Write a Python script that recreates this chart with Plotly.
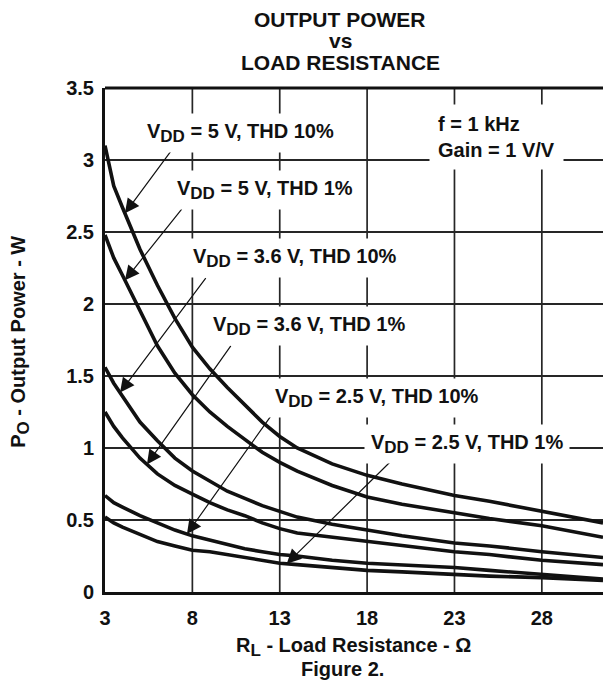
import numpy as np
import plotly.graph_objects as go

# Load resistance (ohm) sample points shared by every curve
r_load = [3, 3.5, 4, 5, 6, 7, 8, 9, 10, 11, 12, 13, 14, 16, 18, 20, 23, 25, 28, 31.5]

# Output power (W) per supply / distortion condition
p_5v_thd10 = [3.10, 2.82, 2.67, 2.38, 2.13, 1.90, 1.70, 1.55, 1.42, 1.30, 1.18, 1.08, 1.00, 0.89, 0.81, 0.75, 0.67, 0.63, 0.56, 0.48]
p_5v_thd1 = [2.48, 2.32, 2.20, 1.95, 1.71, 1.52, 1.37, 1.25, 1.15, 1.06, 0.97, 0.90, 0.84, 0.74, 0.66, 0.61, 0.55, 0.51, 0.46, 0.38]
p_36v_thd10 = [1.56, 1.45, 1.36, 1.18, 1.05, 0.93, 0.84, 0.77, 0.70, 0.65, 0.60, 0.56, 0.52, 0.47, 0.43, 0.39, 0.34, 0.32, 0.28, 0.24]
p_36v_thd1 = [1.25, 1.15, 1.07, 0.93, 0.82, 0.74, 0.68, 0.62, 0.57, 0.53, 0.48, 0.44, 0.41, 0.38, 0.35, 0.32, 0.28, 0.26, 0.22, 0.19]
p_25v_thd10 = [0.67, 0.62, 0.59, 0.53, 0.48, 0.43, 0.39, 0.36, 0.33, 0.30, 0.28, 0.26, 0.25, 0.22, 0.20, 0.19, 0.17, 0.15, 0.12, 0.09]
p_25v_thd1 = [0.52, 0.48, 0.45, 0.40, 0.35, 0.32, 0.29, 0.28, 0.26, 0.24, 0.22, 0.20, 0.19, 0.17, 0.15, 0.14, 0.12, 0.11, 0.10, 0.08]

SUB = "V<sub><span style='font-size:17px'>DD</span></sub>"
series_names = [
    SUB + " = 5 V, THD 10%",
    SUB + " = 5 V, THD 1%",
    SUB + " = 3.6 V, THD 10%",
    SUB + " = 3.6 V, THD 1%",
    SUB + " = 2.5 V, THD 10%",
    SUB + " = 2.5 V, THD 1%",
]
series_values = [p_5v_thd10, p_5v_thd1, p_36v_thd10, p_36v_thd1, p_25v_thd10, p_25v_thd1]

x_ticks = [3, 8, 13, 18, 23, 28]
y_ticks = [0, 0.5, 1, 1.5, 2, 2.5, 3, 3.5]
y_tick_text = ["0", "0.5", "1", "1.5", "2", "2.5", "3", "3.5"]

# Label placement (left edge, vertical centre) and leader arrows: tip on the curve at x, tail in data units
label_pos = [(5.0, 3.19), (6.7, 2.79), (7.65, 2.32), (8.8, 1.85), (12.35, 1.35), (17.8, 1.03)]
arrow_tip_x = [4.14, 4.14, 3.86, 5.4, 7.69, 13.4]
arrow_tail = [(6.89, 3.08), (7.46, 2.67), (8.83, 2.19), (10.26, 1.72), (12.54, 1.23), (19.46, 0.92)]

FONT = "Liberation Sans, Arial, Helvetica, sans-serif"
FS = 20
INK = "#111111"
GRID = "#262626"
X_MAX = 31.5
Y_MAX = 3.5

fig = go.Figure()
for name, vals in zip(series_names, series_values):
    fig.add_trace(go.Scatter(x=r_load, y=vals, mode="lines", name=name,
                             line=dict(color=INK, width=3.6), showlegend=False))

# Vertical grid drawn from the x tick positions, beneath the curves
shapes = []
for xv in x_ticks[1:]:
    shapes.append(dict(type="line", xref="x", yref="y", x0=xv, x1=xv, y0=0, y1=Y_MAX,
                       layer="below", line=dict(color=GRID, width=1.7)))
# Top frame edge
shapes.append(dict(type="line", xref="paper", yref="paper", x0=0, x1=1, y0=1, y1=1,
                   line=dict(color=INK, width=3)))

annotations = []
for name, vals, (lx, ly), tx, (ax, ay) in zip(series_names, series_values, label_pos, arrow_tip_x, arrow_tail):
    ty = float(np.interp(tx, r_load, vals))
    annotations.append(dict(x=tx, y=ty, xref="x", yref="y", ax=ax, ay=ay, axref="x", ayref="y",
                            text="", showarrow=True, arrowhead=2, arrowsize=2.4, arrowwidth=1.2,
                            arrowcolor=INK))
    annotations.append(dict(x=lx, y=ly, xref="x", yref="y", text=name, showarrow=False,
                            xanchor="left", yanchor="middle", bgcolor="white", borderpad=6,
                            font=dict(family=FONT, size=FS, color=INK, weight="bold")))

# Test conditions
annotations.append(dict(x=21.55, y=3.16, xref="x", yref="y", text="f = 1 kHz<br>Gain = 1 V/V",
                        showarrow=False, xanchor="left", yanchor="middle", align="left",
                        bgcolor="white", borderpad=8,
                        font=dict(family=FONT, size=FS, color=INK, weight="bold")))

# Title block
for txt, yy in [("OUTPUT POWER", 1.135), ("vs", 1.094), ("LOAD RESISTANCE", 1.05)]:
    annotations.append(dict(x=0.472, y=yy, xref="paper", yref="paper", text=txt, showarrow=False,
                            xanchor="center", yanchor="middle",
                            font=dict(family=FONT, size=21, color=INK, weight="bold")))

# Axis titles and caption
annotations.append(dict(x=0.498, y=-0.109, xref="paper", yref="paper",
                        text="R<sub><span style='font-size:17px'>L</span></sub> - Load Resistance - Ω",
                        showarrow=False, xanchor="center", yanchor="middle",
                        font=dict(family=FONT, size=FS, color=INK, weight="bold")))
annotations.append(dict(x=-0.171, y=0.496, xref="paper", yref="paper",
                        text="P<sub><span style='font-size:17px'>O</span></sub> - Output Power - W",
                        showarrow=False, textangle=-90, xanchor="center", yanchor="middle",
                        font=dict(family=FONT, size=FS, color=INK, weight="bold")))
annotations.append(dict(x=0.476, y=-0.153, xref="paper", yref="paper", text="Figure 2.",
                        showarrow=False, xanchor="center", yanchor="middle",
                        font=dict(family=FONT, size=FS, color=INK, weight="bold")))

fig.update_layout(
    width=603, height=687,
    margin=dict(l=105, r=0, t=88, b=95),
    paper_bgcolor="white", plot_bgcolor="white",
    annotations=annotations,
    shapes=shapes,
    font=dict(family=FONT, size=FS, color=INK),
)
fig.update_xaxes(range=[3, X_MAX], tickvals=x_ticks, showgrid=False,
                 showline=True, linecolor=INK, linewidth=3, zeroline=False, ticks="",
                 ticklabelstandoff=6,
                 tickfont=dict(family=FONT, size=FS, color=INK, weight="bold"))
# Horizontal grid from the y axis itself
fig.update_yaxes(range=[0, Y_MAX], tickvals=y_ticks, ticktext=y_tick_text,
                 showgrid=True, gridcolor=GRID, gridwidth=2,
                 showline=True, linecolor=INK, linewidth=3,
                 zeroline=False, ticks="", ticklabelstandoff=4,
                 tickfont=dict(family=FONT, size=FS, color=INK, weight="bold"))

fig.write_html("out.html")
